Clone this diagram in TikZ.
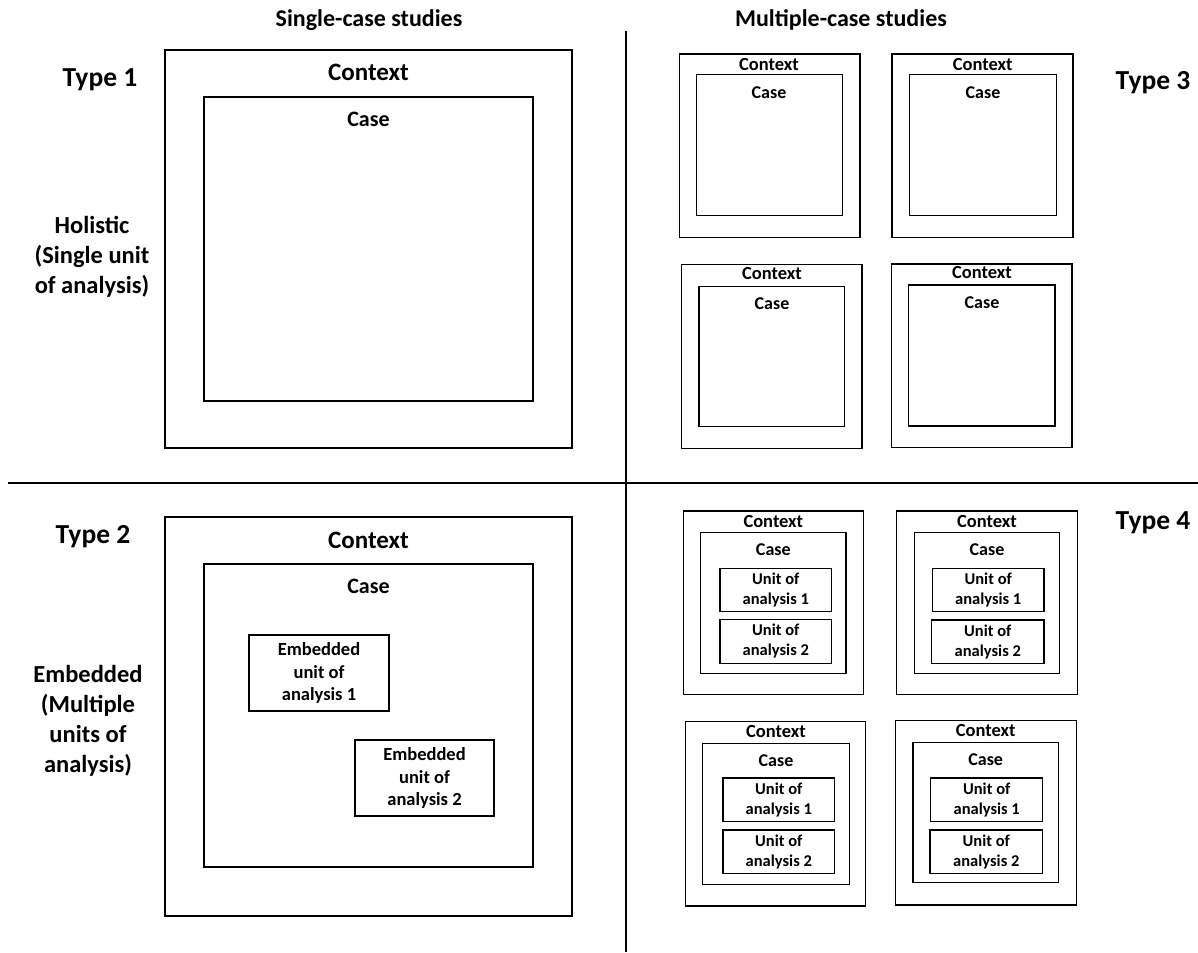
\documentclass[tikz,border=0pt]{standalone}
\usepackage{fontspec}
\setmainfont{Carlito}

\begin{document}
\begin{tikzpicture}[
		x=1pt, y=-1pt,
		contexto/.style={
			draw,
			rectangle,
			inner sep=0pt,
			line width=1.3pt
		},
		unidade/.style={
			draw,
			rectangle,
			inner sep=0pt,
			line width=1.3pt,
			align=center,
			font=\bfseries\fontsize{16.5}{20}\selectfont
		},
		embutida/.style={
			draw,
			rectangle,
			inner sep=0pt,
			line width=1.3pt,
			align=center,
			font=\bfseries\fontsize{18.5}{22.5}\selectfont
		},
		tipo/.style={inner sep=0pt, font=\bfseries\fontsize{27.5}{32}\selectfont},
		lateral/.style={inner sep=0pt, align=center, font=\bfseries\fontsize{24.5}{30}\selectfont},
		titulo/.style={inner sep=0pt, font=\bfseries\fontsize{24}{28}\selectfont},
		ctxg/.style={inner sep=0pt, font=\bfseries\fontsize{25}{28}\selectfont},
		casog/.style={inner sep=0pt, font=\bfseries\fontsize{22}{25}\selectfont},
		ctxp/.style={inner sep=0pt, font=\bfseries\fontsize{18.5}{22}\selectfont},
		casop/.style={inner sep=0pt, font=\bfseries\fontsize{18}{22}\selectfont},
		divisoria/.style={line width=2pt}
		]
		
		\useasboundingbox (0,0) rectangle (1198,952);
		
		%Divisorias
		\coordinate (vtopo) at (626,31);
		\coordinate (vbase) at (626,952);
		\coordinate (hesq) at (8,483);
		\coordinate (hdir) at (1198,483);
		\draw[divisoria] (vtopo) -- (vbase);
		\draw[divisoria] (hesq) -- (hdir);
		
		\node[titulo] (tsingle) at (369,20) {Single-case studies};
		\node[titulo] (tmulti) at (841,20) {Multiple-case studies};
		
		\node[tipo] (tipo1) at (100,80) {Type 1};
		\node[tipo] (tipo2) at (93,537) {Type 2};
		\node[tipo] (tipo3) at (1153,83) {Type 3};
		\node[tipo] (tipo4) at (1153,523) {Type 4};
		
		\node[lateral] (holistic) at (92,257) {Holistic\\(Single unit\\of analysis)};
		\node[lateral] (embedded) at (88,721) {Embedded\\(Multiple\\units of\\analysis)};
		
		%Tipo 1
		\node[contexto, minimum width=407, minimum height=398] (ctx1) at (368.5,249) {};
		\node[contexto, minimum width=329, minimum height=304] (caso1) at (368.5,249) {};
		\node[ctxg] (lctx1) at (368.5,72.5) {Context};
		\node[casog] (lcaso1) at (368.5,119) {Case};
		
		%Tipo 2
		\node[contexto, minimum width=407, minimum height=399] (ctx2) at (368.5,716.5) {};
		\node[contexto, minimum width=329, minimum height=303] (caso2) at (368.5,715.5) {};
		\node[ctxg] (lctx2) at (368.5,540) {Context};
		\node[casog] (lcaso2) at (368.5,586) {Case};
		\node[embutida, minimum width=140, minimum height=76] (emb1) at (319,673) {Embedded\\unit of\\analysis 1};
		\node[embutida, minimum width=139, minimum height=76] (emb2) at (424.5,778) {Embedded\\unit of\\analysis 2};
		
		%Tipo 3
		\node[contexto, minimum width=180.7, minimum height=183.7] (ctx3a) at (769.7,145.9) {};
		\node[contexto, minimum width=145.6, minimum height=141] (caso3a) at (769.5,145.2) {};
		\node[ctxp] (lctx3a) at (769,65) {Context};
		\node[casop] (lcaso3a) at (769,92.7) {Case};
		
		\node[contexto, minimum width=181, minimum height=183.7] (ctx3b) at (982.5,145.9) {};
		\node[contexto, minimum width=146.6, minimum height=141] (caso3b) at (983,145.2) {};
		\node[ctxp] (lctx3b) at (982.7,65) {Context};
		\node[casop] (lcaso3b) at (983,92.7) {Case};
		
		\node[contexto, minimum width=180.3, minimum height=183.6] (ctx3c) at (771.9,356.5) {};
		\node[contexto, minimum width=145.7, minimum height=140] (caso3c) at (771.9,356.7) {};
		\node[ctxp] (lctx3c) at (772,273.3) {Context};
		\node[casop] (lcaso3c) at (772,303.3) {Case};
		
		\node[contexto, minimum width=180.3, minimum height=183.7] (ctx3d) at (981.9,355.9) {};
		\node[contexto, minimum width=146.7, minimum height=141] (caso3d) at (981.7,355.5) {};
		\node[ctxp] (lctx3d) at (982,272.7) {Context};
		\node[casop] (lcaso3d) at (982,302.7) {Case};
		
		%Tipo 4
		\node[contexto, minimum width=180, minimum height=183.3] (ctx4a) at (773.3,602.7) {};
		\node[contexto, minimum width=145.3, minimum height=140.6] (caso4a) at (773.3,603) {};
		\node[ctxp] (lctx4a) at (773.3,521.7) {Context};
		\node[casop] (lcaso4a) at (773.3,550) {Case};
		\node[unidade, minimum width=111.7, minimum height=43.4] (u4a1) at (775.8,590) {Unit of\\analysis 1};
		\node[unidade, minimum width=111.7, minimum height=44] (u4a2) at (775.8,641.3) {Unit of\\analysis 2};
		
		\node[contexto, minimum width=180.6, minimum height=183.3] (ctx4b) at (987,602.7) {};
		\node[contexto, minimum width=145.4, minimum height=140.6] (caso4b) at (987,603) {};
		\node[ctxp] (lctx4b) at (987,521.7) {Context};
		\node[casop] (lcaso4b) at (987,550) {Case};
		\node[unidade, minimum width=111.7, minimum height=43.4] (u4b1) at (988.2,590) {Unit of\\analysis 1};
		\node[unidade, minimum width=112.3, minimum height=43.3] (u4b2) at (987.8,641.7) {Unit of\\analysis 2};
		
		\node[contexto, minimum width=180, minimum height=184.3] (ctx4c) at (775.7,813.8) {};
		\node[contexto, minimum width=146.6, minimum height=140.6] (caso4c) at (776,814) {};
		\node[ctxp] (lctx4c) at (776,731) {Context};
		\node[casop] (lcaso4c) at (776,760.7) {Case};
		\node[unidade, minimum width=111.7, minimum height=43.7] (u4c1) at (778.8,799.8) {Unit of\\analysis 1};
		\node[unidade, minimum width=111.7, minimum height=43.7] (u4c2) at (778.8,851.8) {Unit of\\analysis 2};
		
		\node[contexto, minimum width=180.6, minimum height=184.3] (ctx4d) at (986,812.8) {};
		\node[contexto, minimum width=145.3, minimum height=140] (caso4d) at (985.7,812.7) {};
		\node[ctxp] (lctx4d) at (985.7,730) {Context};
		\node[casop] (lcaso4d) at (985.7,760) {Case};
		\node[unidade, minimum width=112, minimum height=43.7] (u4d1) at (986.7,799.8) {Unit of\\analysis 1};
		\node[unidade, minimum width=112.7, minimum height=43.7] (u4d2) at (986.3,851.8) {Unit of\\analysis 2};
		
	\end{tikzpicture}
\end{document}
